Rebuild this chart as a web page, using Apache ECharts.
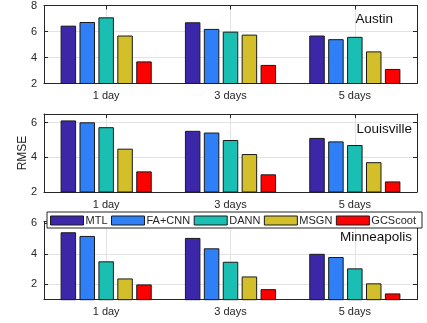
<!DOCTYPE html>
<html><head><meta charset="utf-8">
<script src="https://cdn.jsdelivr.net/npm/echarts@6/dist/echarts.min.js"></script>
<style>html,body{margin:0;padding:0;background:#fff}#c{width:427px;height:323px}</style>
</head><body><div id="c"></div>
<script>
// ---- data ----
const categories = ['1 day', '3 days', '5 days'];
const methods = ['MTL', 'FA+CNN', 'DANN', 'MSGN', 'GCScoot'];
const cities = ['Austin', 'Louisville', 'Minneapolis'];
// rows follow methods order, columns follow categories
const austin = [
  [6.45, 6.71, 5.69],
  [6.73, 6.20, 5.41],
  [7.09, 5.99, 5.59],
  [5.69, 5.76, 4.47],
  [3.70, 3.43, 3.12]
];
const louisville = [
  [6.13, 5.53, 5.12],
  [6.02, 5.43, 4.92],
  [5.74, 5.00, 4.71],
  [4.50, 4.19, 3.72],
  [3.19, 3.02, 2.61]
];
const minneapolis = [
  [5.41, 5.04, 4.00],
  [5.17, 4.36, 3.79],
  [3.51, 3.48, 3.05],
  [2.39, 2.52, 2.07],
  [2.00, 1.69, 1.41]
];
const yRanges = [[2, 8], [2, 6.5], [1, 6.1]];
const yTicks = [[2, 4, 6, 8], [2, 4, 6], [2, 4, 6]];
const cityData = [austin, louisville, minneapolis];

// ---- styles ----
const colors = ['#3C27A8', '#2F7FF6', '#1BBEB2', '#D2BF2A', '#FF0000'];
const axisColor = '#262626';
const gridColor = '#e3e3e3';
const font = 'Liberation Sans, Arial, Helvetica, sans-serif';
const gridTops = [5.5, 114, 221.7];
const gridH = 78;

const grid = [], xAxis = [], yAxis = [], series = [], title = [];
const titlePos = [{right: 34, top: 12}, {right: 15, top: 122.5}, {right: 15, top: 230}];

for (let g = 0; g < 3; g++) {
  grid.push({left: 44, right: 10, top: gridTops[g], height: gridH, show: false});
  xAxis.push({
    type: 'category', gridIndex: g, data: categories, position: 'bottom',
    axisLine: {show: true, lineStyle: {color: axisColor, width: 1.2}},
    axisTick: {show: true, inside: true, alignWithLabel: true, length: 4, lineStyle: {color: axisColor}},
    axisLabel: {color: axisColor, fontSize: 11, fontFamily: font, margin: 7},
    splitLine: {show: true, alignWithLabel: true, lineStyle: {color: gridColor, width: 1}}
  });
  xAxis.push({
    type: 'category', gridIndex: g, data: categories, position: 'top',
    axisLine: {show: true, lineStyle: {color: axisColor, width: 1}},
    axisTick: {show: true, inside: true, alignWithLabel: true, length: 4, lineStyle: {color: axisColor}},
    axisLabel: {show: false}, splitLine: {show: false}
  });
  yAxis.push({
    type: 'value', gridIndex: g, min: yRanges[g][0], max: yRanges[g][1], position: 'left',
    axisLine: {show: true, lineStyle: {color: axisColor, width: 1}},
    axisTick: {show: true, inside: true, length: 4, customValues: yTicks[g], lineStyle: {color: axisColor}},
    axisLabel: {color: axisColor, fontSize: 11, fontFamily: font, margin: 7, customValues: yTicks[g]},
    splitLine: {show: true, lineStyle: {color: gridColor, width: 1}},
    name: g === 1 ? 'RMSE' : '', nameLocation: 'middle', nameGap: 15.5, nameMoveOverlap: false,
    nameTextStyle: {color: axisColor, fontSize: 12, fontFamily: font}
  });
  yAxis.push({
    type: 'value', gridIndex: g, min: yRanges[g][0], max: yRanges[g][1], position: 'right',
    axisLine: {show: true, lineStyle: {color: axisColor, width: 1}},
    axisTick: {show: true, inside: true, length: 4, customValues: yTicks[g], lineStyle: {color: axisColor}},
    axisLabel: {show: false}, splitLine: {show: false}
  });
  title.push({
    text: cities[g], right: titlePos[g].right, top: titlePos[g].top, padding: 0,
    textStyle: {fontSize: 13.5, fontWeight: 'normal', color: '#111', fontFamily: font}
  });
  for (let m = 0; m < methods.length; m++) {
    series.push({
      type: 'bar', name: methods[m], xAxisIndex: 2 * g, yAxisIndex: 2 * g,
      data: cityData[g][m], barWidth: 15.5, barGap: '22%',
      itemStyle: {color: colors[m], borderColor: '#1a1a1a', borderWidth: 1},
      emphasis: {disabled: true}, z: 2
    });
  }
}

const chart = echarts.init(document.getElementById('c'), null, {renderer: 'canvas'});
chart.setOption({
  animation: false,
  backgroundColor: '#fff',
  title: title,
  grid: grid, xAxis: xAxis, yAxis: yAxis, series: series,
  legend: {
    data: methods, left: 47, top: 212, orient: 'horizontal',
    padding: [3, 6, 2, 3], itemWidth: 33, itemHeight: 9, itemGap: 3.5,
    backgroundColor: '#fff', borderColor: axisColor, borderWidth: 1, borderRadius: 0,
    icon: 'rect',
    itemStyle: {borderColor: '#1a1a1a', borderWidth: 1},
    textStyle: {fontSize: 11, color: axisColor, fontFamily: font, padding: [0, 0, 0, -3]},
    z: 10
  }
});
</script>
</body></html>
